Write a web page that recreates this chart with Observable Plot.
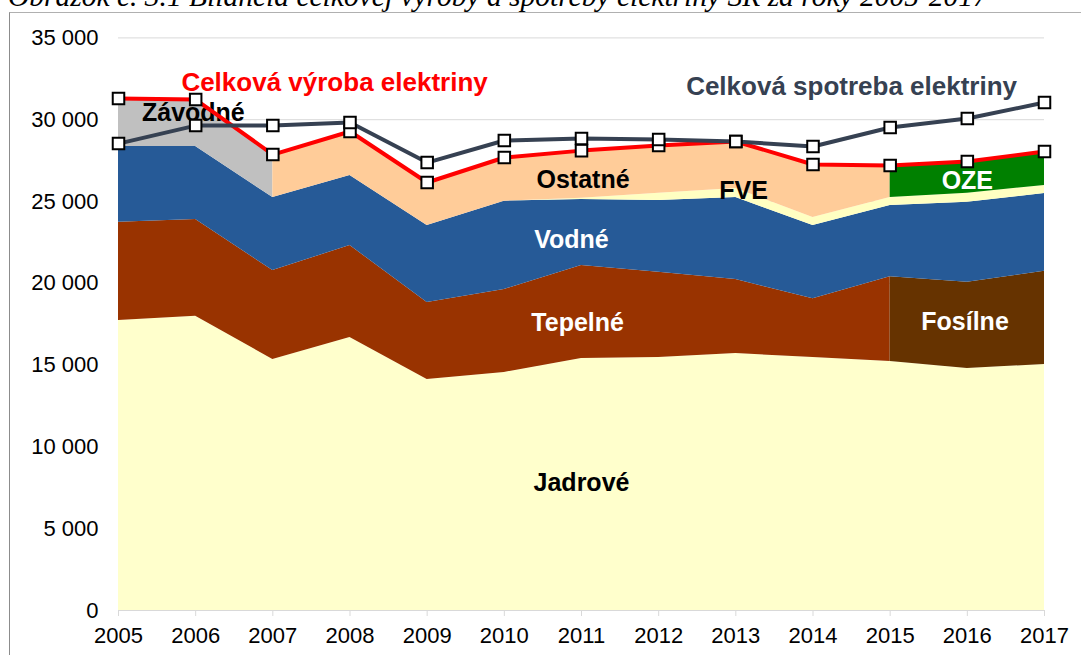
<!DOCTYPE html>
<html><head><meta charset="utf-8">
<script src="https://cdn.jsdelivr.net/npm/d3@7"></script>
<script src="https://cdn.jsdelivr.net/npm/@observablehq/plot@0.6"></script>
<style>
html,body{margin:0;padding:0;background:#fff;overflow:hidden;}
#wrap{position:relative;width:1081px;height:655px;overflow:hidden;}
#frame{position:absolute;left:9px;top:12px;width:2000px;height:2000px;border-left:1px solid #8c8c8c;border-top:1px solid #b0b0b0;}
#title{position:absolute;left:8px;top:-18px;font:italic 29.5px "Liberation Serif","Times New Roman",serif;line-height:29px;white-space:nowrap;color:#000;}
#chart{position:absolute;left:0;top:0;}
</style></head>
<body><div id="wrap"><div id="title">Obrázok č. 3.1  Bilancia celkovej výroby a spotreby elektriny SR za roky 2005-2017</div><div id="frame"></div><div id="chart"></div></div>
<script>
const years = [2005,2006,2007,2008,2009,2010,2011,2012,2013,2014,2015,2016,2017];
const yTicks = [0,5000,10000,15000,20000,25000,30000,35000];
// GWh components (stacked bottom to top)
const jadrove  = [17720,17990,15340,16690,14120,14550,15400,15460,15710,15460,15220,14790,15040];
const tepelne  = [6010,5910,5440,5620,4710,5070,5690,5220,4520,3590,5180,null,null];
const fosilne  = [null,null,null,null,null,null,null,null,null,null,5180,5280,5700];
const vodne    = [4630,4460,4460,4280,4700,5400,4030,4380,5010,4480,4350,4880,4750];
const fve      = [null,null,null,null,null,0,80,440,550,490,490,550,490];
const zavodne  = [2930,2870,2630,null,null,null,null,null,null,null,null,null,null];
const ostatne  = [null,null,2630,2690,2630,2670,2910,2920,2880,3240,1960,null,null];
const oze      = [null,null,null,null,null,null,null,null,null,null,1960,1940,2070];
const vyroba   = [31290,31230,27870,29280,26160,27690,28110,28420,28670,27260,27200,27440,28050];
const spotreba = [28540,29640,29640,29830,27380,28730,28850,28790,28670,28360,29520,30070,31050];

const colors = {
  jadrove:"#FFFFCC", tepelne:"#993300", fosilne:"#663300", vodne:"#265A97",
  fve:"#FFFFC2", zavodne:"#C0C0C0", ostatne:"#FFCC99", oze:"#008000",
  vyroba:"#FF0000", spotreba:"#364152"
};

// cumulative bases
const b0 = years.map(() => 0);
const b1 = years.map((_, i) => b0[i] + jadrove[i]);
const b2 = years.map((_, i) => b1[i] + (tepelne[i] ?? fosilne[i] ?? 0));
const b3 = years.map((_, i) => b2[i] + vodne[i]);
const b4 = years.map((_, i) => b3[i] + (fve[i] ?? 0));

function layer(vals, base) {
  const out = [];
  years.forEach((yr, i) => {
    if (vals[i] != null) out.push({x: yr, y1: base[i], y2: base[i] + vals[i]});
  });
  return out;
}
const area = (vals, base, fill) => Plot.areaY(layer(vals, base), {x:"x", y1:"y1", y2:"y2", fill, curve:"linear"});

const lineData = (vals) => years.map((yr, i) => ({x: yr, y: vals[i]}));

const labels = [
  {x:2011.0, y:7800,  t:"Jadrové", c:"#000"},
  {x:2010.95,y:17600, t:"Tepelné", c:"#fff"},
  {x:2010.87,y:22650, t:"Vodné", c:"#fff"},
  {x:2011.02,y:26300, t:"Ostatné", c:"#000"},
  {x:2013.1, y:25650, t:"FVE", c:"#000"},
  {x:2016.0, y:26280, t:"OZE", c:"#fff"},
  {x:2015.97,y:17640, t:"Fosílne", c:"#fff"},
  {x:2005.97,y:30400, t:"Závodné", c:"#000"}
];
const titles = [
  {x:2007.8, y:32250, t:"Celková výroba elektriny", c:colors.vyroba},
  {x:2014.5, y:32000, t:"Celková spotreba elektriny", c:colors.spotreba}
];

const fmt = d => d3.format(",")(d).replace(/,/g, " ");

const chart = Plot.plot({
  width: 1081, height: 655,
  marginLeft: 118, marginRight: 37, marginTop: 37.4, marginBottom: 45,
  style: {fontFamily: "'Liberation Sans', Arial, sans-serif", background: "transparent", overflow: "visible"},
  x: {domain: [2005, 2017]},
  y: {domain: [0, 35000]},
  marks: [
    Plot.gridY(yTicks, {stroke: "#D9D9D9", strokeOpacity: 1}),
    area(jadrove, b0, colors.jadrove),
    area(tepelne, b1, colors.tepelne),
    area(fosilne, b1, colors.fosilne),
    area(vodne, b2, colors.vodne),
    area(fve, b3, colors.fve),
    area(zavodne, b4, colors.zavodne),
    area(ostatne, b4, colors.ostatne),
    area(oze, b4, colors.oze),
    Plot.ruleY([0], {stroke: "#D9D9D9"}),
    Plot.axisX({ticks: years, tickFormat: d => String(d), tickSize: 6, tickPadding: 11, stroke: "#D9D9D9", fill: "#000", fontSize: 22, label: null}),
    Plot.axisY({ticks: yTicks, tickFormat: fmt, tickSize: 0, tickPadding: 20, fill: "#000", fontSize: 22, label: null}),
    Plot.text(labels, {x:"x", y:"y", text:"t", fill:"c", fontSize: 25, fontWeight: "bold"}),
    Plot.text(titles, {x:"x", y:"y", text:"t", fill:"c", fontSize: 26, fontWeight: "bold"}),
    Plot.line(lineData(vyroba), {x:"x", y:"y", stroke: colors.vyroba, strokeWidth: 4}),
    Plot.line(lineData(spotreba), {x:"x", y:"y", stroke: colors.spotreba, strokeWidth: 4}),
    Plot.dot(lineData(vyroba), {x:"x", y:"y", symbol:"square", r: 6.5, fill:"#fff", stroke:"#000", strokeWidth: 2}),
    Plot.dot(lineData(spotreba), {x:"x", y:"y", symbol:"square", r: 6.5, fill:"#fff", stroke:"#000", strokeWidth: 2})
  ]
});
document.getElementById("chart").appendChild(chart);
</script>
</body></html>
